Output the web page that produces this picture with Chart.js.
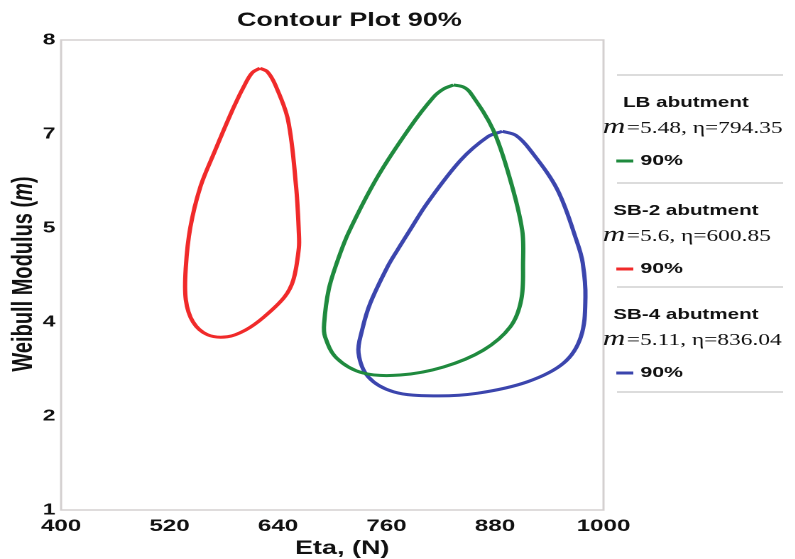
<!DOCTYPE html>
<html lang="en">
<head>
    <meta charset="UTF-8">
    <title>Contour Plot 90%</title>
    <script src="https://cdn.jsdelivr.net/npm/chart.js"></script>
    <style>
        html, body { margin: 0; padding: 0; background: #fff; overflow: hidden; }
        /* the source figure is stretched sideways, so the whole chart is drawn narrow and widened */
        #wrap { width: 560px; height: 559px; transform: scaleX(1.42); transform-origin: 0 0; }
    </style>
</head>
<body>
    <div id="wrap"><canvas id="contourChart"></canvas></div>

    <script>
        // axis ticks
        const xTicks = [400, 520, 640, 760, 880, 1000];
        const yTicks = [1, 2.4, 3.8, 5.2, 6.6, 8];
        const yTickLabels = ['1', '2', '4', '5', '7', '8'];

        // 90% contours (eta, m), each loop closed on its first point
        const lbEta = [834, 845, 853, 878, 897, 910, 911, 909, 897, 867, 823, 775, 734, 705, 692, 691, 696, 705, 718, 750, 786, 812, 823, 834];
        const lbM   = [7.33, 7.30, 7.21, 6.66, 5.91, 5.17, 4.68, 4.13, 3.73, 3.38, 3.13, 3.01, 3.04, 3.26, 3.58, 3.78, 4.28, 4.68, 5.13, 5.96, 6.70, 7.15, 7.27, 7.33];

        const sb2Eta = [620, 628, 637, 651, 660, 663, 663, 657, 647, 624, 604, 584, 562, 546, 538, 538, 543, 554, 569, 591, 605, 612, 620];
        const sb2M   = [7.58, 7.53, 7.33, 6.81, 5.81, 5.13, 4.90, 4.43, 4.17, 3.87, 3.68, 3.58, 3.61, 3.80, 4.13, 4.62, 5.21, 5.81, 6.31, 7.00, 7.38, 7.52, 7.58];

        const sb4Eta = [888, 903, 919, 949, 971, 977, 980, 975, 956, 916, 861, 812, 768, 740, 729, 733, 742, 761, 772, 786, 805, 842, 872, 888];
        const sb4M   = [6.64, 6.58, 6.36, 5.77, 4.98, 4.68, 4.17, 3.58, 3.19, 2.91, 2.74, 2.70, 2.76, 2.98, 3.34, 3.68, 4.08, 4.62, 4.87, 5.17, 5.57, 6.21, 6.56, 6.64];

        // legend entries
        const seriesNames = ['LB abutment', 'SB-2 abutment', 'SB-4 abutment'];
        const seriesM = ['5.48', '5.6', '5.11'];
        const seriesEta = ['794.35', '600.85', '836.04'];
        const seriesLevel = '90%';
        const seriesColors = ['#1f8a3e', '#f02a2a', '#3b45ad'];

        function toPoints(xs, ys) {
            return xs.map((x, i) => ({ x: x, y: ys[i] }));
        }

        const sansBold = '"Liberation Sans", Arial, sans-serif';
        const serif = '"Liberation Serif", "Times New Roman", serif';

        // border, titles and the side legend
        const decorations = {
            id: 'decorations',
            beforeDatasetsDraw(chart) {
                const ctx = chart.ctx;
                const a = chart.chartArea;
                ctx.save();
                ctx.strokeStyle = '#d4d0d0';
                ctx.lineWidth = 1.5;
                ctx.strokeRect(a.left, a.top, a.right - a.left, a.bottom - a.top);
                ctx.restore();
            },
            afterDraw(chart) {
                const ctx = chart.ctx;
                ctx.save();
                ctx.fillStyle = '#111';
                ctx.textBaseline = 'middle';

                ctx.textAlign = 'center';
                ctx.font = 'bold 19px ' + sansBold;
                ctx.fillText('Contour Plot 90%', 246, 21);
                ctx.fillText('Eta, (N)', 241, 549);

                // y title, with the italic m
                ctx.save();
                ctx.translate(17, 274);
                ctx.rotate(-Math.PI / 2);
                ctx.textAlign = 'left';
                const parts = [['Weibull Modulus (', 'bold 20px '], ['m', 'italic bold 20px '], [')', 'bold 20px ']];
                let total = 0;
                parts.forEach(p => { ctx.font = p[1] + sansBold; total += ctx.measureText(p[0]).width; });
                let px = -total / 2;
                parts.forEach(p => {
                    ctx.font = p[1] + sansBold;
                    ctx.fillText(p[0], px, 0);
                    px += ctx.measureText(p[0]).width;
                });
                ctx.restore();

                // legend on the right
                const seps = [75, 183, 287, 392];
                ctx.strokeStyle = '#dcdcdc';
                ctx.lineWidth = 2;
                seps.forEach(y => {
                    ctx.beginPath();
                    ctx.moveTo(434.5, y);
                    ctx.lineTo(551.5, y);
                    ctx.stroke();
                });
                seriesNames.forEach((name, i) => {
                    const top = seps[i];
                    ctx.fillStyle = '#111';
                    ctx.textAlign = 'center';
                    ctx.font = 'bold 14.5px ' + sansBold;
                    ctx.fillText(name, 483, top + 28);

                    ctx.textAlign = 'left';
                    ctx.textBaseline = 'alphabetic';
                    ctx.font = 'italic 22px ' + serif;
                    ctx.fillText('m', 424.5, top + 58);
                    const mw = ctx.measureText('m').width;
                    ctx.font = '16.5px ' + serif;
                    ctx.fillText('=' + seriesM[i] + ', \u03b7=' + seriesEta[i], 424.5 + mw + 1, top + 58);
                    ctx.textBaseline = 'middle';

                    ctx.strokeStyle = seriesColors[i];
                    ctx.lineWidth = 3;
                    ctx.beginPath();
                    ctx.moveTo(434, top + 86);
                    ctx.lineTo(446, top + 86);
                    ctx.stroke();
                    ctx.font = 'bold 15px ' + sansBold;
                    ctx.fillText(seriesLevel, 451, top + 86);
                    ctx.strokeStyle = '#dcdcdc';
                    ctx.lineWidth = 2;
                });
                ctx.restore();
            }
        };

        const ctx = document.getElementById('contourChart').getContext('2d');
        new Chart(ctx, {
            type: 'scatter',
            data: {
                datasets: [
                    {
                        label: seriesNames[0],
                        data: toPoints(lbEta, lbM),
                        borderColor: seriesColors[0]
                    },
                    {
                        label: seriesNames[1],
                        data: toPoints(sb2Eta, sb2M),
                        borderColor: seriesColors[1]
                    },
                    {
                        label: seriesNames[2],
                        data: toPoints(sb4Eta, sb4M),
                        borderColor: seriesColors[2]
                    }
                ]
            },
            options: {
                responsive: true,
                maintainAspectRatio: false,
                animation: false,
                devicePixelRatio: 2,
                layout: { padding: { top: 40, right: 135, bottom: 0, left: 0 } },
                elements: {
                    line: { borderWidth: 3, tension: 0.35, fill: false },
                    point: { radius: 0, hoverRadius: 0 }
                },
                datasets: { scatter: { showLine: true } },
                plugins: {
                    legend: { display: false },
                    title: { display: false },
                    tooltip: { enabled: false }
                },
                scales: {
                    x: {
                        type: 'linear',
                        min: 400,
                        max: 1000,
                        afterBuildTicks: s => { s.ticks = xTicks.map(v => ({ value: v })); },
                        afterFit: s => { s.height = 49; },
                        grid: { display: false, drawTicks: false },
                        border: { display: false },
                        ticks: {
                            padding: 6,
                            color: '#111',
                            font: { family: sansBold, size: 17, weight: 'bold' },
                            callback: v => String(v)
                        }
                    },
                    y: {
                        type: 'linear',
                        min: 1,
                        max: 8,
                        afterBuildTicks: s => { s.ticks = yTicks.map(v => ({ value: v })); },
                        afterFit: s => { s.width = 43; },
                        grid: { display: false, drawTicks: false },
                        border: { display: false },
                        ticks: {
                            padding: 4,
                            color: '#111',
                            font: { family: sansBold, size: 16, weight: 'bold' },
                            callback: (v, i) => yTickLabels[i]
                        }
                    }
                }
            },
            plugins: [decorations]
        });
    </script>
</body>
</html>
